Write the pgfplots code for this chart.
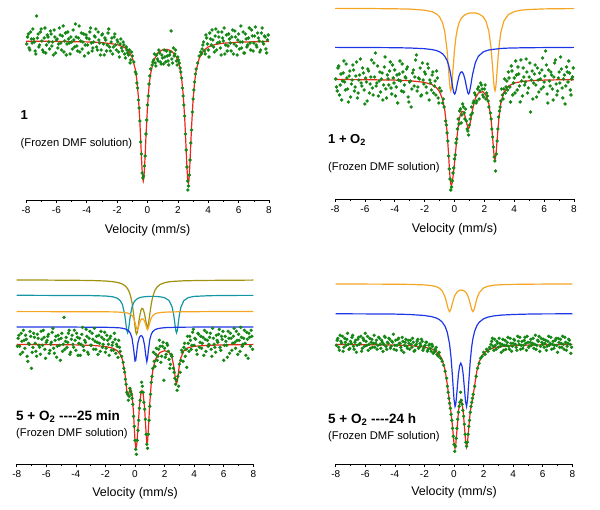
\documentclass[border=0pt]{standalone}
\usepackage{fontspec}
\setmainfont{Liberation Sans}
\usepackage{pgfplots}
\pgfplotsset{compat=1.18}
\definecolor{dgreen}{RGB}{20,135,20}
\definecolor{fitred}{RGB}{232,40,24}
\definecolor{cOrange}{RGB}{245,165,35}
\definecolor{cBlue}{RGB}{30,55,230}
\definecolor{cTeal}{RGB}{20,150,165}
\definecolor{cOlive}{RGB}{160,145,15}
\pgfplotsset{
  moss/.style={scale only axis, xmin=-8, xmax=8, ymin=0, clip=false,
    axis x line=bottom, axis y line=none,
    axis line style={-, black, line width=0.8pt},
    xtick={-8,-6,...,8}, xticklabels={-8,-6,-4,-2,0,2,4,6,8},
    minor xtick={-7,-5,...,7},
    tick align=outside, major tick length=3pt, minor tick length=2pt,
    every tick/.style={black, line width=0.6pt},
    ticklabel style={font=\fontsize{10}{11}\selectfont},
    xlabel={Velocity (mm/s)},
    xlabel style={font=\fontsize{12.5}{14}\selectfont, at={(axis description cs:0.5,0)}, anchor=center, yshift=-30.5pt}},
  dots/.style={only marks, mark=*, mark size=1.5pt, color=dgreen, mark options={draw=none, fill=dgreen}},
  fit/.style={no marks, line width=1.2pt, color=#1},
}
\begin{document}
\begin{tikzpicture}
\useasboundingbox (0,0) rectangle (600pt,510pt);

% ---------- panel 1 ----------
\begin{axis}[moss, at={(26pt,310pt)}, anchor=south west, width=243pt, height=200pt, ymax=200]
\addplot[dots] coordinates {(-7.9,163)(-7.8,152)(-7.7,168)(-7.6,157)(-7.5,161)(-7.4,149)(-7.3,184)(-7.2,166)(-7.1,155)(-7,171)(-6.9,150)(-6.8,162)(-6.7,147)(-6.6,165)(-6.5,158)(-6.4,169)(-6.3,154)(-6.2,145)(-6.1,163)(-6,160)(-5.9,152)(-5.8,172)(-5.7,157)(-5.6,164)(-5.5,148)(-5.4,167)(-5.3,156)(-5.2,161)(-5.1,146)(-5,158)(-4.9,170)(-4.8,153)(-4.7,163)(-4.6,149)(-4.5,174)(-4.4,159)(-4.3,151)(-4.2,166)(-4.1,155)(-4,162)(-3.9,147)(-3.8,168)(-3.7,157)(-3.6,152)(-3.5,164)(-3.4,171)(-3.3,150)(-3.2,160)(-3.1,145)(-3,165)(-2.9,156)(-2.8,162)(-2.7,149)(-2.6,167)(-2.5,153)(-2.4,158)(-2.3,146)(-2.2,163)(-2.1,155)(-2,160)(-1.9,148)(-1.8,156)(-1.7,152)(-1.6,158)(-1.5,146)(-1.4,153)(-1.3,147)(-1.2,150)(-1.1,140)(-1,144)
(-0.9,138)(-0.8,128)(-0.75,126)(-0.7,117)(-0.65,112)(-0.6,100)(-0.55,92)(-0.5,79)(-0.45,58)(-0.4,46)(-0.35,27)(-0.3,22)(-0.25,24)(-0.2,34)(-0.15,44)(-0.1,66)(-0.05,80)(0,95)(0.05,104)(0.1,116)(0.15,124)(0.2,131)(0.3,135)
(0.4,140)(0.5,137)(0.6,145)(0.7,139)(0.8,147)(0.9,136)(1,142)(1.1,150)(1.2,138)(1.3,144)(1.4,135)(1.5,148)(1.55,169)(1.6,141)(1.7,152)(1.8,146)(1.9,139)(2,143)(2.1,137)
(2.2,128)(2.25,122)(2.3,112)(2.35,104)(2.4,95)(2.45,84)(2.5,66)(2.55,50)(2.6,33)(2.65,19)(2.66,10)(2.7,14)(2.75,25)(2.8,40)(2.85,57)(2.9,70)(2.95,88)(3,101)(3.05,110)(3.1,118)(3.15,126)(3.2,131)(3.3,137)(3.4,144)(3.5,148)
(3.6,151)(3.7,158)(3.8,146)(3.9,162)(4,150)(4.1,167)(4.2,155)(4.3,160)(4.4,148)(4.5,171)(4.6,157)(4.7,163)(4.8,152)(4.9,168)(5,159)(5.1,146)(5.2,165)(5.3,154)(5.4,161)(5.5,149)(5.6,170)(5.7,156)(5.8,163)(5.9,145)(6,166)(6.1,158)(6.2,152)(6.3,168)(6.4,147)(6.5,161)(6.6,155)(6.7,172)(6.8,150)(6.9,164)(7,157)(7.1,173)(7.2,153)(7.3,162)(7.4,148)(7.5,167)(7.6,158)(7.7,164)(7.8,151)(7.9,160)};
\addplot[dots] coordinates {(-7.95,156)(-7.85,166)(-7.75,150)(-7.65,161)(-7.55,171)(-7.45,158)(-7.35,146)(-7.25,162)(-7.15,153)(-7.05,168)(-6.95,159)(-6.85,148)(-6.75,172)(-6.65,155)(-6.55,163)(-6.45,151)(-6.35,166)(-6.25,158)(-6.15,170)(-6.05,147)(-5.95,161)(-5.85,156)(-5.75,165)(-5.65,150)(-5.55,174)(-5.45,159)(-5.35,145)(-5.25,168)(-5.15,157)(-5.05,163)(-4.95,151)(-4.85,160)(-4.75,176)(-4.65,154)(-4.55,162)(-4.45,148)(-4.35,167)(-4.25,158)(-4.15,144)(-4.05,165)(-3.95,155)(-3.85,161)(-3.75,172)(-3.65,149)(-3.55,158)(-3.45,163)(-3.35,153)(-3.25,168)(-3.15,157)(-3.05,150)(-2.95,166)(-2.85,145)(-2.75,160)(-2.65,155)(-2.55,171)(-2.45,149)(-2.35,162)(-2.25,153)(-2.15,166)(-2.05,150)(-1.95,158)(-1.85,143)(-1.75,161)(-1.65,149)(-1.55,155)(-1.45,142)(-1.35,150)(-1.25,145)(-1.15,137)(-1.05,148)
(0.35,138)(0.45,146)(0.55,134)(0.65,141)(0.75,150)(0.85,138)(0.95,145)(1.05,136)(1.15,143)(1.25,149)(1.35,139)(1.45,145)(1.65,137)(1.75,144)(1.85,150)(1.95,135)(2.05,140)(2.15,132)
(3.55,146)(3.65,155)(3.75,149)(3.85,165)(3.95,156)(4.05,143)(4.15,161)(4.25,170)(4.35,153)(4.45,164)(4.55,150)(4.65,168)(4.75,158)(4.85,145)(4.95,162)(5.05,172)(5.15,155)(5.25,149)(5.35,166)(5.45,157)(5.55,163)(5.65,146)(5.75,169)(5.85,154)(5.95,160)(6.05,151)(6.15,174)(6.25,158)(6.35,147)(6.45,166)(6.55,153)(6.65,162)(6.75,157)(6.85,170)(6.95,149)(7.05,164)(7.15,155)(7.25,167)(7.35,159)(7.45,150)(7.55,172)(7.65,156)(7.75,163)(7.85,147)(7.95,165)};
\addplot[fit=fitred] coordinates {(-8,158.8)(-6,158.6)(-4,158.1)(-3,157.4)(-2,155.5)(-1.5,152.4)(-1.2,148.1)(-1,142.3)(-0.8,130.4)(-0.7,119.7)(-0.6,102.9)(-0.5,77.1)(-0.45,60.8)(-0.4,43.5)(-0.35,28.4)(-0.32,22.1)(-0.28,19)(-0.24,22.1)(-0.2,31.0)(-0.15,46.6)(-0.1,63.8)(0,93.3)(0.1,113.3)(0.2,126.0)(0.4,139.4)(0.7,147.5)(1,150.2)(1.3,150.6)(1.6,148.8)(1.9,143.2)(2.1,134.5)(2.25,121.0)(2.35,105.6)(2.45,81.5)(2.5,65.8)(2.55,48.4)(2.6,31.9)(2.65,20.1)(2.69,16.8)(2.72,18.8)(2.75,24.1)(2.8,38.4)(2.85,55.8)(2.9,72.7)(3,99.8)(3.1,117.7)(3.2,129.1)(3.4,141.5)(3.7,149.5)(4,153.1)(4.5,155.7)(5,156.8)(6,157.8)(7,158.2)(8,158.5)};
\end{axis}

% ---------- panel 2 ----------
\begin{axis}[moss, at={(335pt,311pt)}, anchor=south west, width=239pt, height=199pt, ymax=199]
\addplot[dots] coordinates {(-7.9,112)(-7.8,131)(-7.7,104)(-7.6,125)(-7.5,118)(-7.4,138)(-7.3,109)(-7.2,121)(-7.1,97)(-7,128)(-6.9,115)(-6.8,134)(-6.7,108)(-6.6,123)(-6.5,101)(-6.4,119)(-6.3,140)(-6.2,113)(-6.1,126)(-6,95)(-5.9,117)(-5.8,130)(-5.7,106)(-5.6,122)(-5.5,111)(-5.4,136)(-5.3,146)(-5.2,116)(-5.1,103)(-5,127)(-4.9,120)(-4.8,99)(-4.7,132)(-4.6,110)(-4.5,124)(-4.4,114)(-4.3,137)(-4.2,105)(-4.1,121)(-4,129)(-3.9,112)(-3.8,96)(-3.7,125)(-3.6,118)(-3.5,135)(-3.4,107)(-3.3,122)(-3.2,130)(-3.1,102)(-3,117)(-2.9,92)(-2.8,126)(-2.7,113)(-2.6,139)(-2.5,108)(-2.4,121)(-2.3,131)(-2.2,104)(-2.1,119)(-2,127)(-1.9,112)(-1.8,135)(-1.7,99)(-1.6,116)(-1.5,124)(-1.4,106)(-1.3,118)(-1.2,128)(-1.1,101)(-1,111)
(-0.9,108)(-0.8,96)(-0.7,92)(-0.6,78)(-0.5,66)(-0.45,58)(-0.4,43)(-0.35,30)(-0.3,20)(-0.25,9)(-0.2,12)(-0.15,18)(-0.1,26)(-0.05,31)(0,40)(0.05,44)(0.1,56)(0.15,60)(0.2,70)(0.3,75)(0.4,90)(0.5,84)(0.6,92)(0.7,80)(0.8,78)(0.9,68)(1,74)(1.1,84)(1.2,86)(1.3,98)(1.4,104)(1.5,98)(1.6,112)(1.7,108)(1.8,114)(1.9,104)(2,110)(2.1,100)(2.2,103)(2.3,92)(2.4,86)(2.45,80)(2.5,70)(2.55,62)(2.6,52)(2.65,42)(2.7,38)(2.75,28)(2.8,45)(2.85,58)(2.9,70)(2.95,82)(3,88)(3.1,98)(3.2,104)(3.3,110)(3.4,106)(3.5,118)
(3.6,127)(3.7,112)(3.8,133)(3.9,104)(4,121)(4.1,138)(4.2,109)(4.3,125)(4.4,97)(4.5,118)(4.6,131)(4.7,114)(4.8,140)(4.9,106)(5,122)(5.1,87)(5.2,128)(5.3,116)(5.4,134)(5.5,102)(5.6,119)(5.7,126)(5.8,110)(5.9,141)(6,117)(6.1,148)(6.2,105)(6.3,129)(6.4,113)(6.5,124)(6.6,99)(6.7,136)(6.8,115)(6.9,108)(7,127)(7.1,142)(7.2,111)(7.3,120)(7.4,95)(7.5,132)(7.6,117)(7.7,126)(7.8,104)(7.9,122)};
\addplot[dots] coordinates {(-7.95,120)(-7.85,108)(-7.75,133)(-7.65,114)(-7.55,99)(-7.45,126)(-7.35,117)(-7.25,135)(-7.15,110)(-7.05,123)(-6.95,102)(-6.85,119)(-6.75,129)(-6.65,112)(-6.55,137)(-6.45,106)(-6.35,124)(-6.25,116)(-6.15,131)(-6.05,109)(-5.95,121)(-5.85,98)(-5.75,128)(-5.65,115)(-5.55,139)(-5.45,104)(-5.35,122)(-5.25,113)(-5.15,133)(-5.05,118)(-4.95,107)(-4.85,126)(-4.75,114)(-4.65,142)(-4.55,101)(-4.45,120)(-4.35,128)(-4.25,111)(-4.15,134)(-4.05,116)(-3.95,103)(-3.85,124)(-3.75,119)(-3.65,138)(-3.55,108)(-3.45,127)(-3.35,114)(-3.25,121)(-3.15,132)(-3.05,97)(-2.95,118)(-2.85,110)(-2.75,129)(-2.65,122)(-2.55,144)(-2.45,112)(-2.35,120)(-2.25,103)(-2.15,136)(-2.05,115)(-1.95,125)(-1.85,106)(-1.75,131)(-1.65,119)(-1.55,109)(-1.45,127)(-1.35,113)(-1.25,104)(-1.15,121)(-1.05,96)
(-0.75,100)(-0.55,74)(0.25,80)(0.35,88)(0.45,76)(0.55,95)(0.65,86)(0.75,90)(0.85,70)(0.95,64)(1.05,80)(1.15,92)(1.25,96)(1.35,106)(1.45,96)(1.55,110)(1.65,100)(1.75,116)(1.85,110)(1.95,102)(2.05,114)(2.15,106)(2.25,98)(3.05,92)(3.15,110)(3.25,100)(3.35,120)(3.45,112)
(3.55,109)(3.65,121)(3.75,97)(3.85,128)(3.95,116)(4.05,106)(4.15,124)(4.25,132)(4.35,113)(4.45,139)(4.55,103)(4.65,122)(4.75,117)(4.85,127)(4.95,111)(5.05,136)(5.15,119)(5.25,100)(5.35,125)(5.45,114)(5.55,131)(5.65,107)(5.75,120)(5.85,129)(5.95,112)(6.05,123)(6.15,134)(6.25,96)(6.35,118)(6.45,127)(6.55,110)(6.65,122)(6.75,139)(6.85,104)(6.95,121)(7.05,116)(7.15,130)(7.25,101)(7.35,124)(7.45,113)(7.55,127)(7.65,138)(7.75,109)(7.85,120)(7.95,131)};
\addplot[fit=cOrange] coordinates {(-8,190.6)(-6,190.5)(-4,190.2)(-3,189.9)(-2,188.8)(-1.5,187.3)(-1.2,185.0)(-1,182.1)(-0.8,176.3)(-0.65,167.2)(-0.5,149.2)(-0.4,129.9)(-0.35,119.4)(-0.3,111.3)(-0.25,108.1)(-0.2,111.2)(-0.15,119.4)(-0.1,129.8)(0,149.0)(0.1,162.2)(0.2,170.5)(0.3,175.8)(0.4,179.2)(0.5,181.5)(0.6,183.0)(0.7,184.1)(0.8,184.9)(0.9,185.5)(1,185.9)(1.2,186.1)(1.4,186.0)(1.6,185.3)(1.9,182.5)(2.1,178.0)(2.3,167.7)(2.45,150.6)(2.55,131.9)(2.62,117.5)(2.67,110.1)(2.71,108.1)(2.75,110.2)(2.8,117.6)(2.87,132.0)(2.97,150.8)(3.1,166.4)(3.3,177.8)(3.6,184.4)(4,187.4)(4.5,188.9)(5,189.5)(6,190.1)(7,190.3)(8,190.4)};
\addplot[fit=cBlue] coordinates {(-8,151.6)(-6,151.5)(-4,151.3)(-3,151.0)(-2,150.3)(-1.5,149.4)(-1.2,148.4)(-1,147.2)(-0.8,145.2)(-0.65,142.7)(-0.5,138.6)(-0.4,134.3)(-0.3,128.0)(-0.25,123.9)(-0.2,119.3)(-0.15,114.5)(-0.1,109.9)(-0.05,106.5)(0,105.0)(0.05,105.8)(0.1,108.4)(0.2,116.2)(0.3,122.8)(0.4,126.5)(0.5,127.2)(0.6,125.0)(0.7,119.8)(0.8,112.2)(0.9,105.8)(0.95,105.0)(1,106.5)(1.1,114.5)(1.2,123.9)(1.4,136.6)(1.6,142.7)(1.9,146.8)(2.1,148.1)(2.3,149.0)(2.45,149.4)(2.7,149.8)(3.1,150.5)(3.3,150.7)(3.6,150.9)(4,151.0)(4.5,151.2)(5,151.3)(6,151.4)(8,151.6)};
\addplot[fit=fitred] coordinates {(-8,119.5)(-6,119.3)(-4,118.9)(-3,118.3)(-2,116.6)(-1.5,114.3)(-1.2,111.2)(-1,107.3)(-0.8,99.8)(-0.65,88.8)(-0.5,67.8)(-0.4,45.4)(-0.35,32.7)(-0.3,21.8)(-0.25,14.8)(-0.2,13.4)(-0.15,16.6)(-0.1,22.1)(0,35.7)(0.1,51.5)(0.2,66.8)(0.3,78.1)(0.4,84.8)(0.5,87.7)(0.6,87.0)(0.7,83.1)(0.8,76.7)(0.9,71.2)(0.95,70.6)(1,72.2)(1.1,80.0)(1.2,88.9)(1.4,100.9)(1.6,106.0)(1.9,107.3)(2.1,104.2)(2.3,95.3)(2.45,79.4)(2.55,61.8)(2.62,48.3)(2.67,41.3)(2.71,39.4)(2.75,41.5)(2.8,48.5)(2.87,62.2)(2.97,80.2)(3.1,95.5)(3.3,106.5)(3.6,112.9)(4,115.9)(4.5,117.5)(5,118.2)(6,118.9)(7,119.2)(8,119.3)};
\end{axis}

% ---------- panel 3 ----------
\begin{axis}[moss, at={(16.7pt,45.7pt)}, anchor=south west, width=236.6pt, height=209.3pt, ymax=209.3, xlabel style={yshift=1.5pt}]
\addplot[dots] coordinates {(-7.9,126)(-7.8,118)(-7.7,131)(-7.6,112)(-7.5,124)(-7.4,129)(-7.3,108)(-7.2,121)(-7.1,133)(-7,96)(-6.9,117)(-6.8,127)(-6.7,113)(-6.6,130)(-6.5,119)(-6.4,110)(-6.3,125)(-6.2,134)(-6.1,115)(-6,122)(-5.9,128)(-5.8,111)(-5.7,120)(-5.6,132)(-5.5,116)(-5.4,124)(-5.3,107)(-5.2,129)(-5.1,119)(-5,126)(-4.9,113)(-4.8,147)(-4.7,123)(-4.6,117)(-4.5,131)(-4.4,110)(-4.3,125)(-4.2,120)(-4.1,134)(-4,114)(-3.9,127)(-3.8,121)(-3.7,109)(-3.6,130)(-3.5,118)(-3.4,124)(-3.3,135)(-3.2,112)(-3.1,126)(-3,119)(-2.9,131)(-2.8,115)(-2.7,123)(-2.6,128)(-2.5,110)(-2.4,121)(-2.3,133)(-2.2,117)(-2.1,125)(-2,112)(-1.9,129)(-1.8,120)(-1.7,126)(-1.6,114)(-1.5,122)(-1.4,131)(-1.3,111)(-1.2,118)(-1.1,124)(-1,113)
(-0.9,108)(-0.8,102)(-0.75,96)(-0.7,92)(-0.65,85)(-0.6,80)(-0.55,72)(-0.5,70)(-0.45,64)(-0.4,68)(-0.35,76)(-0.3,73)(-0.25,70)(-0.2,66)(-0.15,60)(-0.1,48)(-0.05,38)(0,24)(0.05,15)(0.1,10)(0.15,24)(0.2,34)(0.25,44)(0.3,56)(0.35,64)(0.4,72)(0.45,82)(0.5,78)(0.55,72)(0.6,62)(0.65,55)(0.7,45)(0.75,30)(0.8,20)(0.85,16)(0.9,30)(0.95,44)(1,58)(1.05,70)(1.1,82)(1.15,88)(1.2,96)(1.3,103)(1.4,110)(1.5,104)(1.6,115)(1.7,118)(1.8,108)(1.9,122)(1.95,84)(2,116)(2.1,110)(2.2,119)(2.3,105)(2.4,100)(2.5,108)(2.6,96)(2.65,92)(2.7,86)(2.75,80)(2.8,84)(2.85,74)(2.9,88)(2.95,78)(3,100)(3.1,104)(3.2,112)(3.3,117)(3.4,108)(3.5,97)
(3.6,121)(3.7,128)(3.8,115)(3.9,132)(4,119)(4.1,125)(4.2,110)(4.3,130)(4.4,122)(4.5,116)(4.6,127)(4.7,134)(4.8,113)(4.9,124)(5,120)(5.1,131)(5.2,108)(5.3,126)(5.4,117)(5.5,129)(5.6,122)(5.7,135)(5.8,114)(5.9,125)(6,104)(6.1,128)(6.2,119)(6.3,133)(6.4,111)(6.5,126)(6.6,121)(6.7,136)(6.8,116)(6.9,124)(7,130)(7.1,113)(7.2,127)(7.3,120)(7.4,134)(7.5,109)(7.6,125)(7.7,131)(7.8,118)(7.9,128)};
\addplot[dots] coordinates {(-7.95,118)(-7.85,129)(-7.75,110)(-7.65,123)(-7.55,134)(-7.45,116)(-7.35,125)(-7.25,103)(-7.15,120)(-7.05,128)(-6.95,112)(-6.85,131)(-6.75,121)(-6.65,108)(-6.55,126)(-6.45,117)(-6.35,133)(-6.25,119)(-6.15,127)(-6.05,106)(-5.95,124)(-5.85,130)(-5.75,114)(-5.65,122)(-5.55,136)(-5.45,111)(-5.35,128)(-5.25,118)(-5.15,125)(-5.05,104)(-4.95,131)(-4.85,120)(-4.75,115)(-4.65,127)(-4.55,122)(-4.45,134)(-4.35,112)(-4.25,129)(-4.15,117)(-4.05,124)(-3.95,131)(-3.85,109)(-3.75,126)(-3.65,120)(-3.55,137)(-3.45,114)(-3.35,122)(-3.25,128)(-3.15,110)(-3.05,133)(-2.95,119)(-2.85,125)(-2.75,136)(-2.65,115)(-2.55,122)(-2.45,129)(-2.35,113)(-2.25,127)(-2.15,120)(-2.05,132)(-1.95,116)(-1.85,124)(-1.75,109)(-1.65,128)(-1.55,119)(-1.45,114)(-1.35,125)(-1.25,120)(-1.15,107)(-1.05,117)
(1.25,112)(1.35,98)(1.45,116)(1.55,108)(1.65,124)(1.75,102)(1.85,118)(2.05,107)(2.15,121)(2.25,113)(2.35,96)(2.45,110)(3.05,92)(3.15,114)(3.25,103)(3.35,121)(3.45,115)
(3.55,128)(3.65,113)(3.75,124)(3.85,119)(3.95,135)(4.05,126)(4.15,114)(4.25,131)(4.35,117)(4.45,128)(4.55,121)(4.65,109)(4.75,125)(4.85,132)(4.95,118)(5.05,127)(5.15,115)(5.25,136)(5.35,120)(5.45,112)(5.55,124)(5.65,130)(5.75,117)(5.85,128)(5.95,133)(6.05,119)(6.15,123)(6.25,107)(6.35,126)(6.45,131)(6.55,114)(6.65,128)(6.75,122)(6.85,133)(6.95,110)(7.05,124)(7.15,137)(7.25,118)(7.35,126)(7.45,121)(7.55,132)(7.65,106)(7.75,127)(7.85,134)(7.95,115)};
\addplot[fit=cOlive] coordinates {(-8,184.2)(-6,184.2)(-4,184.0)(-3,183.8)(-2,183.3)(-1.5,182.6)(-1.2,181.9)(-1,181.1)(-0.85,180.2)(-0.7,178.8)(-0.6,177.4)(-0.5,175.5)(-0.4,172.7)(-0.3,168.4)(-0.2,161.6)(-0.1,151.1)(0,137.9)(0.05,132.5)(0.1,130.1)(0.15,131.5)(0.2,135.8)(0.3,146.6)(0.4,153.9)(0.47,155.9)(0.55,155.3)(0.65,150.1)(0.72,144.2)(0.8,138.2)(0.85,137.3)(0.9,140.2)(1,149.8)(1.1,160.4)(1.2,167.6)(1.35,174.0)(1.5,177.4)(1.7,179.8)(2,181.6)(2.3,182.5)(2.5,182.8)(2.81,183.1)(3.3,183.5)(4,183.7)(5,183.9)(6,184.0)(7,184.1)(8,184.2)};
\addplot[fit=cTeal] coordinates {(-8,169.0)(-6,168.9)(-4,168.8)(-3,168.7)(-2,168.3)(-1.5,167.5)(-1.2,166.1)(-1,163.7)(-0.85,159.7)(-0.7,150.1)(-0.65,144.9)(-0.6,138.9)(-0.55,133.6)(-0.5,131.4)(-0.45,133.6)(-0.4,138.9)(-0.35,144.9)(-0.3,150.1)(-0.2,157.3)(-0.1,161.3)(0,163.6)(0.2,166.0)(0.4,167.0)(0.65,167.6)(1,167.9)(1.35,167.9)(1.7,167.5)(2,166.6)(2.3,163.8)(2.5,157.8)(2.6,151.0)(2.65,146.0)(2.7,140.1)(2.76,133.6)(2.81,131.4)(2.86,133.6)(2.9,137.7)(2.96,144.9)(3,149.3)(3.1,156.9)(3.3,163.6)(3.6,166.7)(4,167.9)(5,168.6)(6,168.8)(7,168.9)(8,168.9)};
\addplot[fit=cOrange] coordinates {(-8,152.7)(-4,152.6)(-2,152.5)(-1.5,152.4)(-1,152.1)(-0.7,151.7)(-0.5,151.2)(-0.3,150.0)(-0.2,148.7)(-0.1,146.3)(0,141.9)(0.05,138.9)(0.1,136.0)(0.15,134.6)(0.2,135.7)(0.3,141.0)(0.4,144.6)(0.47,145.5)(0.55,145.3)(0.65,143.1)(0.72,140.0)(0.8,135.7)(0.85,134.6)(0.9,136.0)(1,141.9)(1.1,146.3)(1.2,148.7)(1.35,150.4)(1.5,151.2)(1.7,151.7)(2,152.1)(2.3,152.3)(3,152.5)(4,152.6)(5,152.7)(8,152.7)};
\addplot[fit=cBlue] coordinates {(-8,137.3)(-4,137.2)(-2,137.0)(-1.5,136.8)(-1,136.4)(-0.7,135.6)(-0.5,134.3)(-0.4,133.0)(-0.3,130.7)(-0.2,126.0)(-0.1,116.0)(0,103.3)(0.05,103.9)(0.1,109.8)(0.15,116.5)(0.2,121.6)(0.3,127.1)(0.4,128.7)(0.47,128.3)(0.55,126.0)(0.65,118.8)(0.72,109.8)(0.8,102.7)(0.85,106.2)(0.9,113.3)(1,124.5)(1.1,130.0)(1.2,132.7)(1.35,134.6)(1.5,135.5)(1.7,136.1)(2,136.6)(2.3,136.8)(3,137.1)(4,137.2)(5,137.3)(8,137.3)};
\addplot[fit=fitred] coordinates {(-8,119.8)(-6,119.7)(-4,119.4)(-3,119.0)(-2,117.8)(-1.5,116.1)(-1.2,113.6)(-1,110.0)(-0.85,104.6)(-0.7,92.9)(-0.65,86.8)(-0.6,79.6)(-0.55,73.0)(-0.5,69.1)(-0.45,69.3)(-0.4,72.0)(-0.35,74.7)(-0.3,75.8)(-0.2,70.2)(-0.1,51.4)(0,23.4)(0.05,16.4)(0.1,17.6)(0.15,24.8)(0.2,35.7)(0.3,58.0)(0.4,70.8)(0.47,73.7)(0.55,70.7)(0.65,56.3)(0.72,38.4)(0.8,21.1)(0.85,22.7)(0.9,34.0)(1,60.8)(1.1,81.3)(1.2,93.6)(1.35,103.5)(1.5,108.5)(1.7,111.9)(2,113.6)(2.3,112.1)(2.5,106.6)(2.6,100.0)(2.65,95.1)(2.7,89.3)(2.76,82.8)(2.81,80.7)(2.86,82.9)(2.9,87.1)(2.96,94.5)(3,98.8)(3.1,106.5)(3.3,113.4)(3.6,116.7)(4,118.0)(5,119.0)(6,119.4)(7,119.6)(8,119.7)};
\end{axis}

% ---------- panel 4 ----------
\begin{axis}[moss, at={(335.7pt,45.7pt)}, anchor=south west, width=236.6pt, height=209.3pt, ymax=209.3, xlabel style={yshift=2.5pt}]
\addplot[dots] coordinates {(-7.9,124)(-7.8,117)(-7.7,129)(-7.6,121)(-7.5,113)(-7.4,126)(-7.3,119)(-7.2,131)(-7.1,115)(-7,123)(-6.9,127)(-6.8,118)(-6.7,122)(-6.6,112)(-6.5,125)(-6.4,120)(-6.3,128)(-6.2,116)(-6.1,124)(-6,131)(-5.9,119)(-5.8,114)(-5.7,126)(-5.6,122)(-5.5,117)(-5.4,129)(-5.3,121)(-5.2,115)(-5.1,127)(-5,120)(-4.9,124)(-4.8,113)(-4.7,128)(-4.6,118)(-4.5,122)(-4.4,126)(-4.3,116)(-4.2,123)(-4.1,130)(-4,119)(-3.9,114)(-3.8,125)(-3.7,121)(-3.6,117)(-3.5,127)(-3.4,112)(-3.3,122)(-3.2,118)(-3.1,124)(-3,115)(-2.9,120)(-2.8,126)(-2.7,113)(-2.6,119)(-2.5,123)(-2.4,116)(-2.3,121)(-2.2,125)(-2.1,114)(-2,118)(-1.9,122)(-1.8,113)(-1.7,119)(-1.6,116)(-1.5,120)(-1.4,111)(-1.3,115)(-1.2,117)(-1.1,109)(-1,112)
(-0.9,106)(-0.8,103)(-0.7,99)(-0.6,93)(-0.5,86)(-0.45,78)(-0.4,72)(-0.35,66)(-0.3,61)(-0.25,56)(-0.2,50)(-0.15,44)(-0.1,36)(-0.05,28)(0,20)(0.05,13)(0.1,18)(0.15,26)(0.2,36)(0.25,45)(0.3,52)(0.35,58)(0.4,62)(0.45,72)(0.5,64)(0.55,60)(0.6,54)(0.65,48)(0.7,40)(0.75,30)(0.8,22)(0.85,18)(0.9,22)(0.95,30)(1,38)(1.05,44)(1.1,52)(1.15,58)(1.2,62)(1.25,66)(1.3,70)(1.4,78)(1.5,88)(1.6,96)(1.7,101)(1.8,106)(1.9,108)(2,112)(2.1,110)(2.2,115)(2.3,113)(2.4,117)
(2.5,120)(2.6,126)(2.7,114)(2.8,119)(2.9,123)(3,117)(3.1,121)(3.2,112)(3.3,125)(3.4,119)(3.5,115)(3.6,122)(3.7,118)(3.8,126)(3.9,113)(4,121)(4.1,124)(4.2,117)(4.3,128)(4.4,120)(4.5,115)(4.6,123)(4.7,119)(4.8,127)(4.9,114)(5,122)(5.1,118)(5.2,125)(5.3,121)(5.4,116)(5.5,129)(5.6,119)(5.7,123)(5.8,113)(5.9,126)(6,120)(6.1,117)(6.2,124)(6.3,118)(6.4,128)(6.5,121)(6.6,115)(6.7,123)(6.8,119)(6.9,126)(7,112)(7.1,122)(7.2,125)(7.3,117)(7.4,120)(7.5,127)(7.6,114)(7.7,121)(7.8,124)(7.9,111)};
\addplot[dots] coordinates {(-7.95,119)(-7.85,126)(-7.75,114)(-7.65,123)(-7.55,128)(-7.45,117)(-7.35,122)(-7.25,125)(-7.15,120)(-7.05,116)(-6.95,121)(-6.85,129)(-6.75,115)(-6.65,124)(-6.55,119)(-6.45,127)(-6.35,121)(-6.25,113)(-6.15,126)(-6.05,118)(-5.95,123)(-5.85,128)(-5.75,120)(-5.65,116)(-5.55,125)(-5.45,121)(-5.35,117)(-5.25,124)(-5.15,119)(-5.05,126)(-4.95,116)(-4.85,122)(-4.75,120)(-4.65,127)(-4.55,115)(-4.45,121)(-4.35,125)(-4.25,118)(-4.15,122)(-4.05,115)(-3.95,124)(-3.85,119)(-3.75,126)(-3.65,121)(-3.55,114)(-3.45,123)(-3.35,119)(-3.25,125)(-3.15,116)(-3.05,121)(-2.95,124)(-2.85,117)(-2.75,122)(-2.65,114)(-2.55,120)(-2.45,125)(-2.35,117)(-2.25,119)(-2.15,123)(-2.05,116)(-1.95,119)(-1.85,122)(-1.75,115)(-1.65,120)(-1.55,113)(-1.45,118)(-1.35,112)(-1.25,114)(-1.15,110)(-1.05,108)
(2.45,116)(2.55,123)(2.65,118)(2.75,125)(2.85,115)(2.95,121)(3.05,126)(3.15,118)(3.25,120)(3.35,114)(3.45,124)(3.55,119)(3.65,127)(3.75,115)(3.85,121)(3.95,118)(4.05,125)(4.15,120)(4.25,114)(4.35,123)(4.45,127)(4.55,119)(4.65,116)(4.75,124)(4.85,121)(4.95,128)(5.05,117)(5.15,122)(5.25,119)(5.35,126)(5.45,120)(5.55,115)(5.65,124)(5.75,128)(5.85,118)(5.95,122)(6.05,125)(6.15,121)(6.25,114)(6.35,123)(6.45,119)(6.55,127)(6.65,120)(6.75,116)(6.85,124)(6.95,119)(7.05,126)(7.15,117)(7.25,121)(7.35,128)(7.45,115)(7.55,122)(7.65,118)(7.75,125)(7.85,120)(7.95,117)};
\addplot[fit=cOrange] coordinates {(-8,180.2)(-6,180.2)(-4,180.1)(-3,179.9)(-2,179.4)(-1.5,178.6)(-1.2,177.6)(-1,176.2)(-0.8,173.4)(-0.6,167.2)(-0.45,158.8)(-0.38,154.8)(-0.3,152.7)(-0.22,154.6)(-0.1,161.5)(0,166.6)(0.07,169.2)(0.2,172.2)(0.3,173.5)(0.46,174.3)(0.62,173.9)(0.78,172.2)(0.85,170.8)(0.92,168.9)(1,165.7)(1.1,160.3)(1.2,154.6)(1.28,152.7)(1.36,154.8)(1.4,157.0)(1.55,165.8)(1.7,171.5)(2,176.4)(2.3,178.1)(2.7,179.1)(3.2,179.6)(4,179.9)(5,180.1)(6,180.2)(8,180.3)};
\addplot[fit=cBlue] coordinates {(-8,150.5)(-6,150.4)(-4,150.2)(-3,149.8)(-2,148.8)(-1.5,147.6)(-1.2,146.3)(-1,144.8)(-0.8,142.3)(-0.6,137.9)(-0.45,131.7)(-0.3,120.3)(-0.2,106.9)(-0.1,87.0)(0,65.1)(0.07,57.8)(0.12,60.0)(0.2,72.8)(0.3,90.1)(0.38,98.4)(0.46,101.2)(0.54,98.4)(0.62,90.1)(0.7,76.7)(0.78,62.6)(0.85,57.8)(0.92,65.1)(1,82.5)(1.1,103.5)(1.2,118.0)(1.28,125.7)(1.4,133.3)(1.55,138.7)(1.7,142.0)(2,145.5)(2.3,147.2)(2.7,148.4)(3.2,149.2)(4,149.8)(5,150.2)(6,150.4)(8,150.5)};
\addplot[fit=fitred] coordinates {(-8,119.8)(-6,119.6)(-4,119.2)(-3,118.7)(-2,117.2)(-1.5,115.3)(-1.2,112.9)(-1,110.0)(-0.8,104.7)(-0.6,94.1)(-0.45,79.5)(-0.3,62.0)(-0.2,51.5)(-0.1,37.5)(0,20.7)(0.07,16.0)(0.12,19.6)(0.2,34.0)(0.3,52.6)(0.38,61.5)(0.46,64.5)(0.54,61.7)(0.62,53.0)(0.7,39.0)(0.78,23.8)(0.85,17.6)(0.92,23.0)(1,37.2)(1.1,52.8)(1.2,61.6)(1.28,67.4)(1.4,79.3)(1.55,93.5)(1.7,102.5)(2,110.9)(2.3,114.3)(2.7,116.5)(3.2,117.8)(4,118.7)(5,119.2)(6,119.5)(7,119.7)(8,119.8)};
\end{axis}

% ---------- labels ----------
\node[anchor=base west, inner sep=0, font=\fontsize{13}{15}\selectfont\bfseries] at (20.5pt,390pt) {1};
\node[anchor=base west, inner sep=0, font=\fontsize{11.2}{13}\selectfont] at (20.5pt,363.5pt) {(Frozen DMF solution)};
\node[anchor=base west, inner sep=0, font=\fontsize{13}{15}\selectfont\bfseries] at (328pt,366.5pt) {1 + O\textsubscript{2}};
\node[anchor=base west, inner sep=0, font=\fontsize{11.2}{13}\selectfont] at (328pt,339.5pt) {(Frozen DMF solution)};
\node[anchor=base west, inner sep=0, font=\fontsize{13.5}{15}\selectfont\bfseries] at (16pt,89.3pt) {5 + O\textsubscript{2} -{}-{}-{}-25 min};
\node[anchor=base west, inner sep=0, font=\fontsize{11.2}{13}\selectfont] at (16pt,73.5pt) {(Frozen DMF solution)};
\node[anchor=base west, inner sep=0, font=\fontsize{13.5}{15}\selectfont\bfseries] at (328pt,86.5pt) {5 + O\textsubscript{2} -{}-{}-{}-24 h};
\node[anchor=base west, inner sep=0, font=\fontsize{11.2}{13}\selectfont] at (328pt,70.7pt) {(Frozen DMF solution)};
\end{tikzpicture}
\end{document}
